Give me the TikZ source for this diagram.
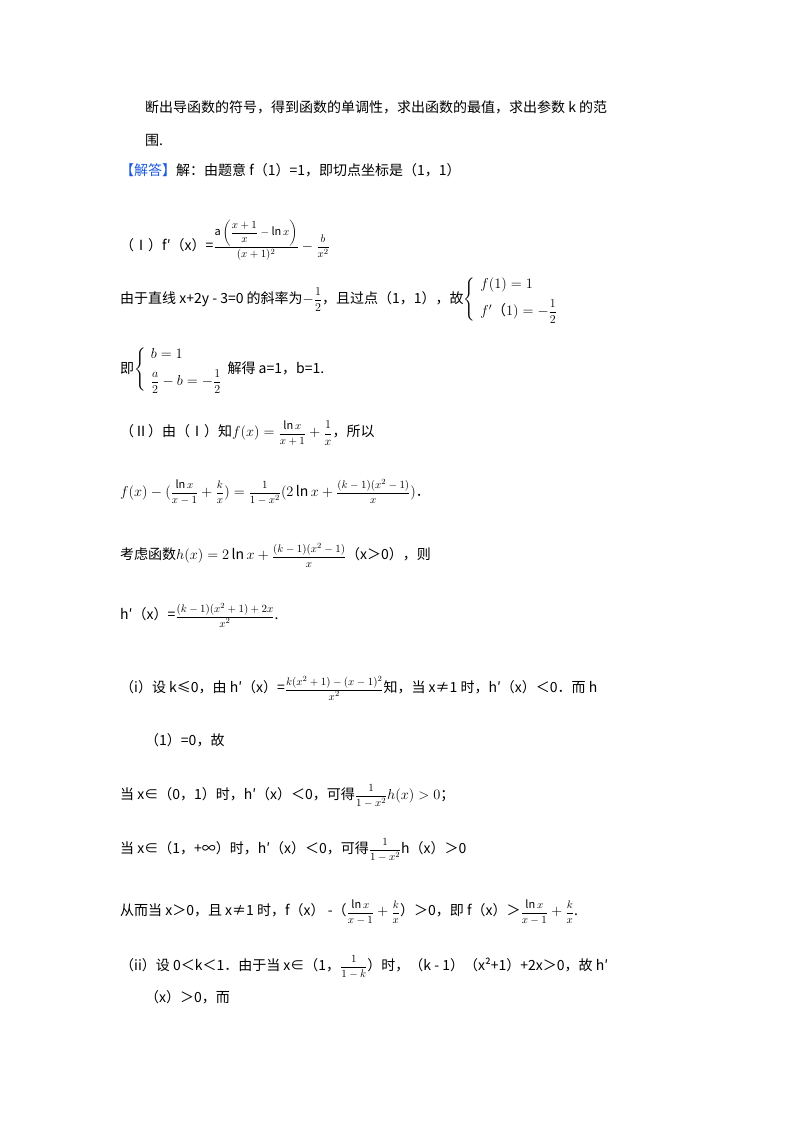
\documentclass[tikz,border=0pt]{standalone}
\usepackage{amsmath}
\usepackage{fontspec}
\setmainfont{Noto Sans CJK SC}
\newcommand{\fr}[2]{\text{\fontsize{11}{12}\selectfont$\dfrac{#1}{#2}$}}
\newcommand{\frb}[2]{\text{\fontsize{13}{14}\selectfont$\dfrac{#1}{#2}$}}
\begin{document}
\begin{tikzpicture}[x=1pt,y=1pt,
  ln/.style={anchor=west,inner sep=0pt,font=\fontsize{14}{17}\selectfont}]
\useasboundingbox (0,0) rectangle (800,-1132);
\node[ln] (l1) at (145,-107) {断出导函数的符号，得到函数的单调性，求出函数的最值，求出参数 k 的范};
\node[ln] (l2) at (145,-140) {围.};
\node[ln] (l3) at (120,-170) {\textcolor[RGB]{30,90,220}{【解答】}解：由题意 f（1）=1，即切点坐标是（1，1）};
\node[ln] (l4) at (120,-240) {（Ⅰ）f′（x）=$\fr{\mathrm{a}\left(\dfrac{x+1}{x}-\ln x\right)}{(x+1)^2}-\fr{b}{x^2}$};
\node[ln] (l5) at (120,-300) {由于直线 x+2y - 3=0 的斜率为$-\frb{1}{2}$，且过点（1，1），故$\left\{\begin{array}{l}f(1)=1\\[6pt] f'\text{（}1)=-\frb{1}{2}\end{array}\right.$};
\node[ln] (l6) at (120,-370) {即$\left\{\begin{array}{l}b=1\\[6pt] \frb{a}{2}-b=-\frb{1}{2}\end{array}\right.$解得 a=1，b=1.};
\node[ln] (l7) at (120,-433) {（Ⅱ）由（Ⅰ）知$f(x)=\fr{\ln x}{x+1}+\frb{1}{x}$，所以};
\node[ln] (l8) at (120,-492) {$f(x)-(\fr{\ln x}{x-1}+\fr{k}{x})=\fr{1}{1-x^2}(2\ln x+\fr{(k-1)(x^2-1)}{x})$．};
\node[ln] (l9) at (120,-555) {考虑函数$h(x)=2\ln x+\fr{(k-1)(x^2-1)}{x}$（x＞0），则};
\node[ln] (l10) at (120,-615) {h′（x）=$\fr{(k-1)(x^2+1)+2x}{x^2}$.};
\node[ln] (l11) at (120,-688) {（i）设 k≤0，由 h′（x）=$\fr{k(x^2+1)-(x-1)^2}{x^2}$知，当 x≠1 时，h′（x）＜0．而 h};
\node[ln] (l12) at (145,-740) {（1）=0，故};
\node[ln] (l13) at (120,-796) {当 x∈（0，1）时，h′（x）＜0，可得$\fr{1}{1-x^2}h(x)>0$；};
\node[ln] (l14) at (120,-850) {当 x∈（1，+∞）时，h′（x）＜0，可得$\fr{1}{1-x^2}$h（x）＞0};
\node[ln] (l15) at (120,-912) {从而当 x＞0，且 x≠1 时，f（x） -（$\fr{\ln x}{x-1}+\fr{k}{x}$）＞0，即 f（x）＞$\fr{\ln x}{x-1}+\fr{k}{x}$.};
\node[ln] (l16) at (120,-967) {（ii）设 0＜k＜1．由于当 x∈（1，$\fr{1}{1-k}$）时，（k - 1）（x²+1）+2x＞0，故 h′};
\node[ln] (l17) at (145,-997) {（x）＞0，而};
\end{tikzpicture}
\end{document}
